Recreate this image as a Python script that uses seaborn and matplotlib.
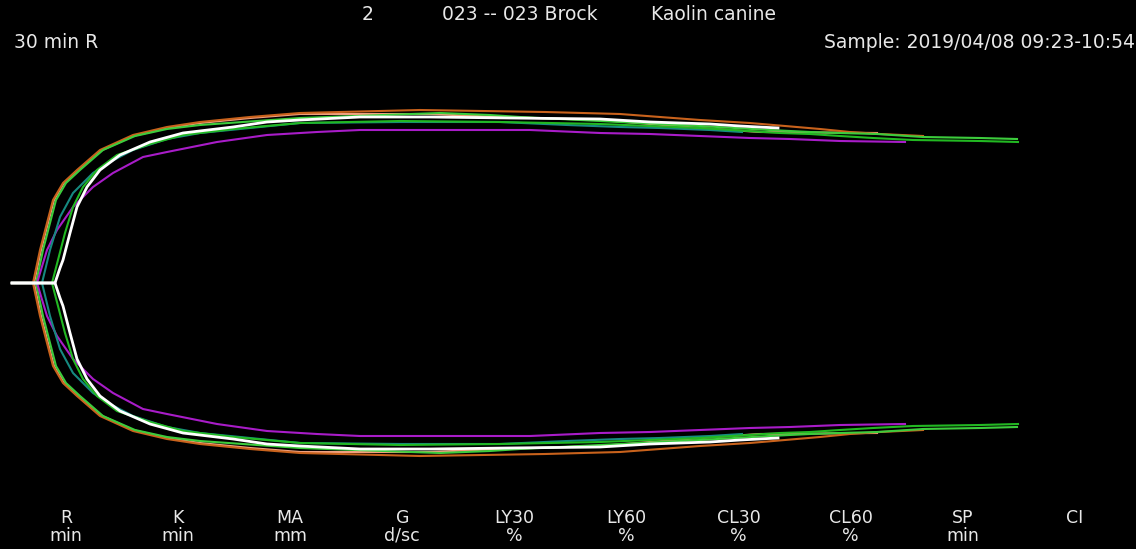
import numpy as np
import pandas as pd
import seaborn as sns
import matplotlib
matplotlib.use("Agg")
import matplotlib.pyplot as plt

# -----------------------------
# 1. Datos de los trazados (tiempo en min, amplitud en mm)
# -----------------------------
orange_t = [0, 2.1, 2.8, 3.5, 4.1, 5.1, 6.5, 8.8, 12.1, 15.5, 18.8, 23.8, 28.8, 40.8, 53.3, 60.8, 68.8, 73.8, 77.3, 80.8, 83.8, 86.8, 91.1]
orange_a = [0, 0, 13.2, 24, 33.2, 40, 45.2, 53.2, 59.2, 62.4, 64.4, 66.4, 68, 69.2, 68.4, 67.6, 65.2, 64, 62.8, 61.6, 60.4, 59.6, 58.8]

salmon_t = [0, 2.2, 2.9, 3.6, 4.2, 5.2, 6.6, 8.8, 12.1, 15.5, 18.8, 23.8, 28.8, 41.8, 48.8, 58.8, 68.8, 74.8, 86.5]
salmon_a = [0, 0, 13.2, 24, 33.2, 40, 45.2, 52.8, 58.8, 62, 64, 66, 67.6, 67.6, 66.4, 65.2, 62, 60.4, 60]

green1_t = [0, 2.4, 3.1, 3.8, 4.4, 5.4, 6.8, 9.1, 12.3, 15.5, 18.8, 28.8, 42.8, 47.8, 50.8, 54.8, 68.8, 75.8, 79.8, 82.8, 86.5, 91.1, 96.8, 100.5]
green1_a = [0, 0, 13.2, 24, 33.2, 40, 45.2, 53.2, 58.8, 61.6, 63.2, 66, 68, 67.2, 66.4, 65.6, 62.8, 61.2, 60.4, 60, 59.6, 58.4, 58, 57.6]

green2_t = [0, 4.0, 4.6, 5.3, 6.1, 7.1, 8.5, 10.5, 13.8, 17.1, 22.1, 28.8, 38.8, 48.8, 58.8, 68.8, 76.8, 79.8, 82.8, 86.1, 90.1, 96.8, 100.6]
green2_a = [0, 0, 9.2, 20, 30.4, 38.4, 45.2, 51.2, 55.6, 59.2, 61.6, 64, 64.8, 64.4, 63.6, 62, 60, 59.6, 58.8, 58, 57.2, 56.8, 56.4]

white_t = [0, 4.3, 4.8, 5.1, 5.8, 6.5, 7.5, 8.8, 10.8, 13.8, 17.1, 22.1, 25.5, 28.8, 34.8, 41.8, 49.8, 58.8, 63.8, 69.8, 72.8, 76.6]
white_a = [0, 0, 6, 9.2, 20, 30.4, 38.4, 45.2, 51.2, 56.4, 60, 62.4, 64.4, 65.2, 66.4, 66.4, 66, 65.6, 64.4, 63.6, 62.8, 62]

teal_t = [0, 3.0, 3.8, 4.8, 6.1, 8.1, 9.8, 12.1, 15.5, 18.8, 23.8, 28.8, 38.8, 48.8, 55.5, 60.8, 64.8, 69.8, 73.0]
teal_a = [0, 0, 13.2, 26.4, 36, 44, 48.4, 53.2, 57.6, 60, 62, 64, 64.4, 64.4, 63.2, 62.4, 62, 61.2, 60.4]

magenta_t = [0, 2.5, 3.5, 4.5, 6.1, 8.1, 10.1, 13.1, 15.5, 20.5, 25.5, 30.5, 34.8, 51.8, 58.8, 63.8, 68.8, 73.8, 77.8, 82.8, 89.3]
magenta_a = [0, 0, 13.2, 21.2, 30.4, 38.4, 44, 50.4, 52.4, 56.4, 59.2, 60.4, 61.2, 61.2, 60, 59.6, 58.8, 58, 57.6, 56.8, 56.4]

# orden de dibujo: el blanco queda encima
trazados = {
    'salmon': (salmon_t, salmon_a),
    'orange': (orange_t, orange_a),
    'green1': (green1_t, green1_a),
    'magenta': (magenta_t, magenta_a),
    'teal': (teal_t, teal_a),
    'green2': (green2_t, green2_a),
    'white': (white_t, white_a),
}
colores = {
    'magenta': '#a81cc8',
    'teal': '#168a80',
    'green2': '#22b822',
    'white': '#ffffff',
    'green1': '#3ccc3c',
    'orange': '#c8621c',
    'salmon': '#f0a080',
}

params = ['R', 'K', 'MA', 'G', 'LY30', 'LY60', 'CL30', 'CL60', 'SP', 'CI']
unidades = ['min', 'min', 'mm', 'd/sc', '%', '%', '%', '%', 'min', '']

# Formato largo: rama superior (+A/2) e inferior (-A/2)
filas = []
for nombre, (tt, aa) in trazados.items():
    for t, a in zip(tt, aa):
        filas.append({'trace': nombre, 'side': 'up', 't': t, 'y': a / 2})
        filas.append({'trace': nombre, 'side': 'down', 't': t, 'y': -a / 2})
df = pd.DataFrame(filas)

# -----------------------------
# 2. Figura
# -----------------------------
W, H = 1136, 549
fig = plt.figure(figsize=(W / 100, H / 100), dpi=100, facecolor='black')
ax = fig.add_axes([0, 0, 1, 1])
ax.set_facecolor('black')

sns.lineplot(
    data=df, x='t', y='y', hue='trace', units='side',
    estimator=None, sort=False, palette=colores,
    hue_order=list(trazados.keys()),
    linewidth=1.5, legend=False, ax=ax
)
# trazo blanco algo más grueso
for ln in ax.get_lines():
    if ln.get_color() == '#ffffff':
        ln.set_linewidth(2.0)

ax.set_xlim(-1.2, 112.4)
ax.set_ylim(-53.2, 56.6)
ax.axis('off')

# -----------------------------
# 3. Textos
# -----------------------------
txt = dict(color='#e8e8e8', fontsize=13.5, family='DejaVu Sans')
fig.text(368 / W, 1 - 14 / H, '2', ha='center', va='center', **txt)
fig.text(598 / W, 1 - 14 / H, '023 -- 023 Brock', ha='right', va='center', **txt)
fig.text(651 / W, 1 - 14 / H, 'Kaolin canine', ha='left', va='center', **txt)
fig.text(14 / W, 1 - 43 / H, '30 min R', ha='left', va='center', **txt)
fig.text(1135 / W, 1 - 43 / H, 'Sample: 2019/04/08 09:23-10:54', ha='right', va='center', **txt)

txt_b = dict(color='#e8e8e8', fontsize=12.5, family='DejaVu Sans')
xs = np.linspace(66, 1075, len(params))
for x, p, u in zip(xs, params, unidades):
    fig.text(x / W, 1 - 518 / H, p, ha='center', va='center', **txt_b)
    fig.text(x / W, 1 - 536 / H, u, ha='center', va='center', **txt_b)

fig.savefig('out.png', dpi=100, facecolor='black')
